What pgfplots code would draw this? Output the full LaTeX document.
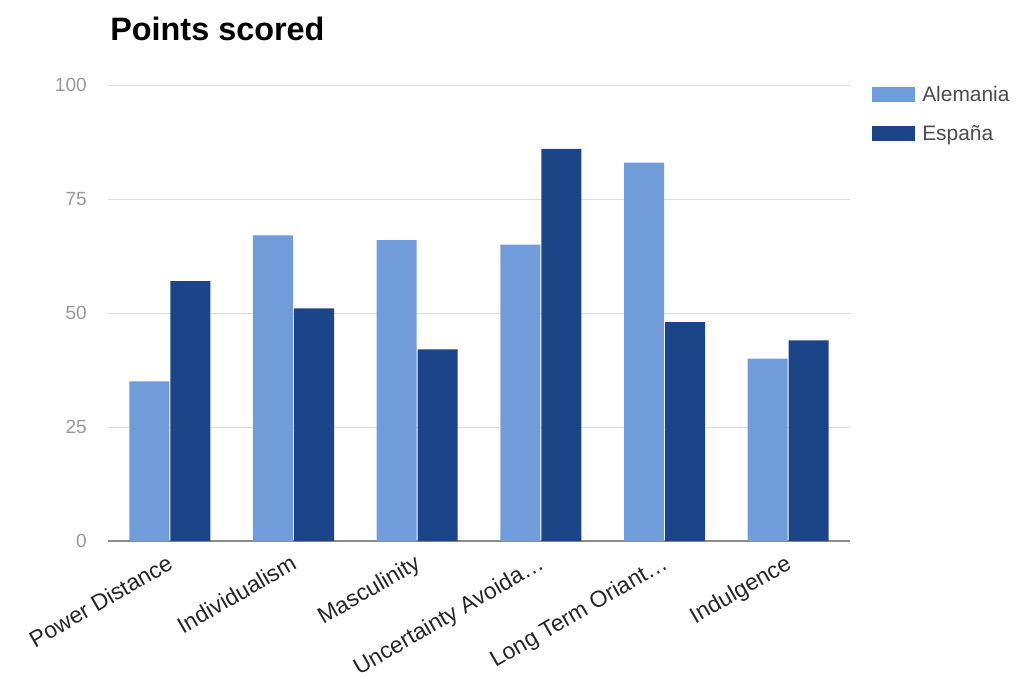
\documentclass[border=0pt]{standalone}
\usepackage{pgfplots}
\pgfplotsset{compat=1.18}
\usepackage{fontspec}
\setmainfont{Liberation Sans}
\definecolor{alem}{RGB}{112,157,218}
\definecolor{espa}{RGB}{28,69,135}
\begin{document}
\begin{tikzpicture}
\useasboundingbox (-81pt,-102.75pt) rectangle (686.25pt,405.75pt);
\begin{axis}[
  at={(0,0)}, anchor=south west,
  scale only axis, width=556.5pt, height=342pt,
  ybar=0.75pt, bar width=30pt,
  xmin=-0.5, xmax=5.5, ymin=0, ymax=100,
  xtick={0,1,2,3,4,5},
  xticklabels={Power Distance,Individualism,Masculinity,Uncertainty Avoida…,Long Term Oriant…,Indulgence},
  ytick={0,25,50,75,100},
  /pgf/number format/assume math mode=true,
  axis lines*=left, axis line style={-},
  y axis line style={draw=none},
  x axis line style={draw=black!45, line width=0.8pt},
  major tick length=0pt,
  ymajorgrids, grid style={draw=black!13, line width=0.6pt},
  xticklabel style={rotate=30, anchor=north east, inner sep=0pt, yshift=-6.5pt, xshift=-7pt, font=\fontsize{17.2}{20}\selectfont, text=black!85},
  yticklabel style={anchor=east, inner sep=0pt, xshift=-15.75pt, font=\fontsize{14.3}{17}\selectfont, text=black!40},
  title={Points scored},
  title style={at={(0,1)}, anchor=base west, yshift=27.5pt, xshift=1.5pt, inner sep=0pt, font=\fontsize{24.3}{28}\selectfont\bfseries},
  legend style={draw=none, fill=none, at={(1,1)}, anchor=north west, xshift=16.5pt, yshift=1.5pt, inner sep=0pt, row sep=12.5pt, font=\fontsize{15.7}{18}\selectfont, text=black!70, nodes={inner xsep=5.5pt}},
  legend cell align=left,
  legend image code/.code={\fill[#1] (-5.5pt,-5.6pt) rectangle (26.5pt,5.6pt);},
]
\addplot[fill=alem, draw=none] coordinates {(0,35) (1,67) (2,66) (3,65) (4,83) (5,40)};
\addplot[fill=espa, draw=none] coordinates {(0,57) (1,51) (2,42) (3,86) (4,48) (5,44)};
\legend{Alemania, España}
\end{axis}
\end{tikzpicture}
\end{document}
